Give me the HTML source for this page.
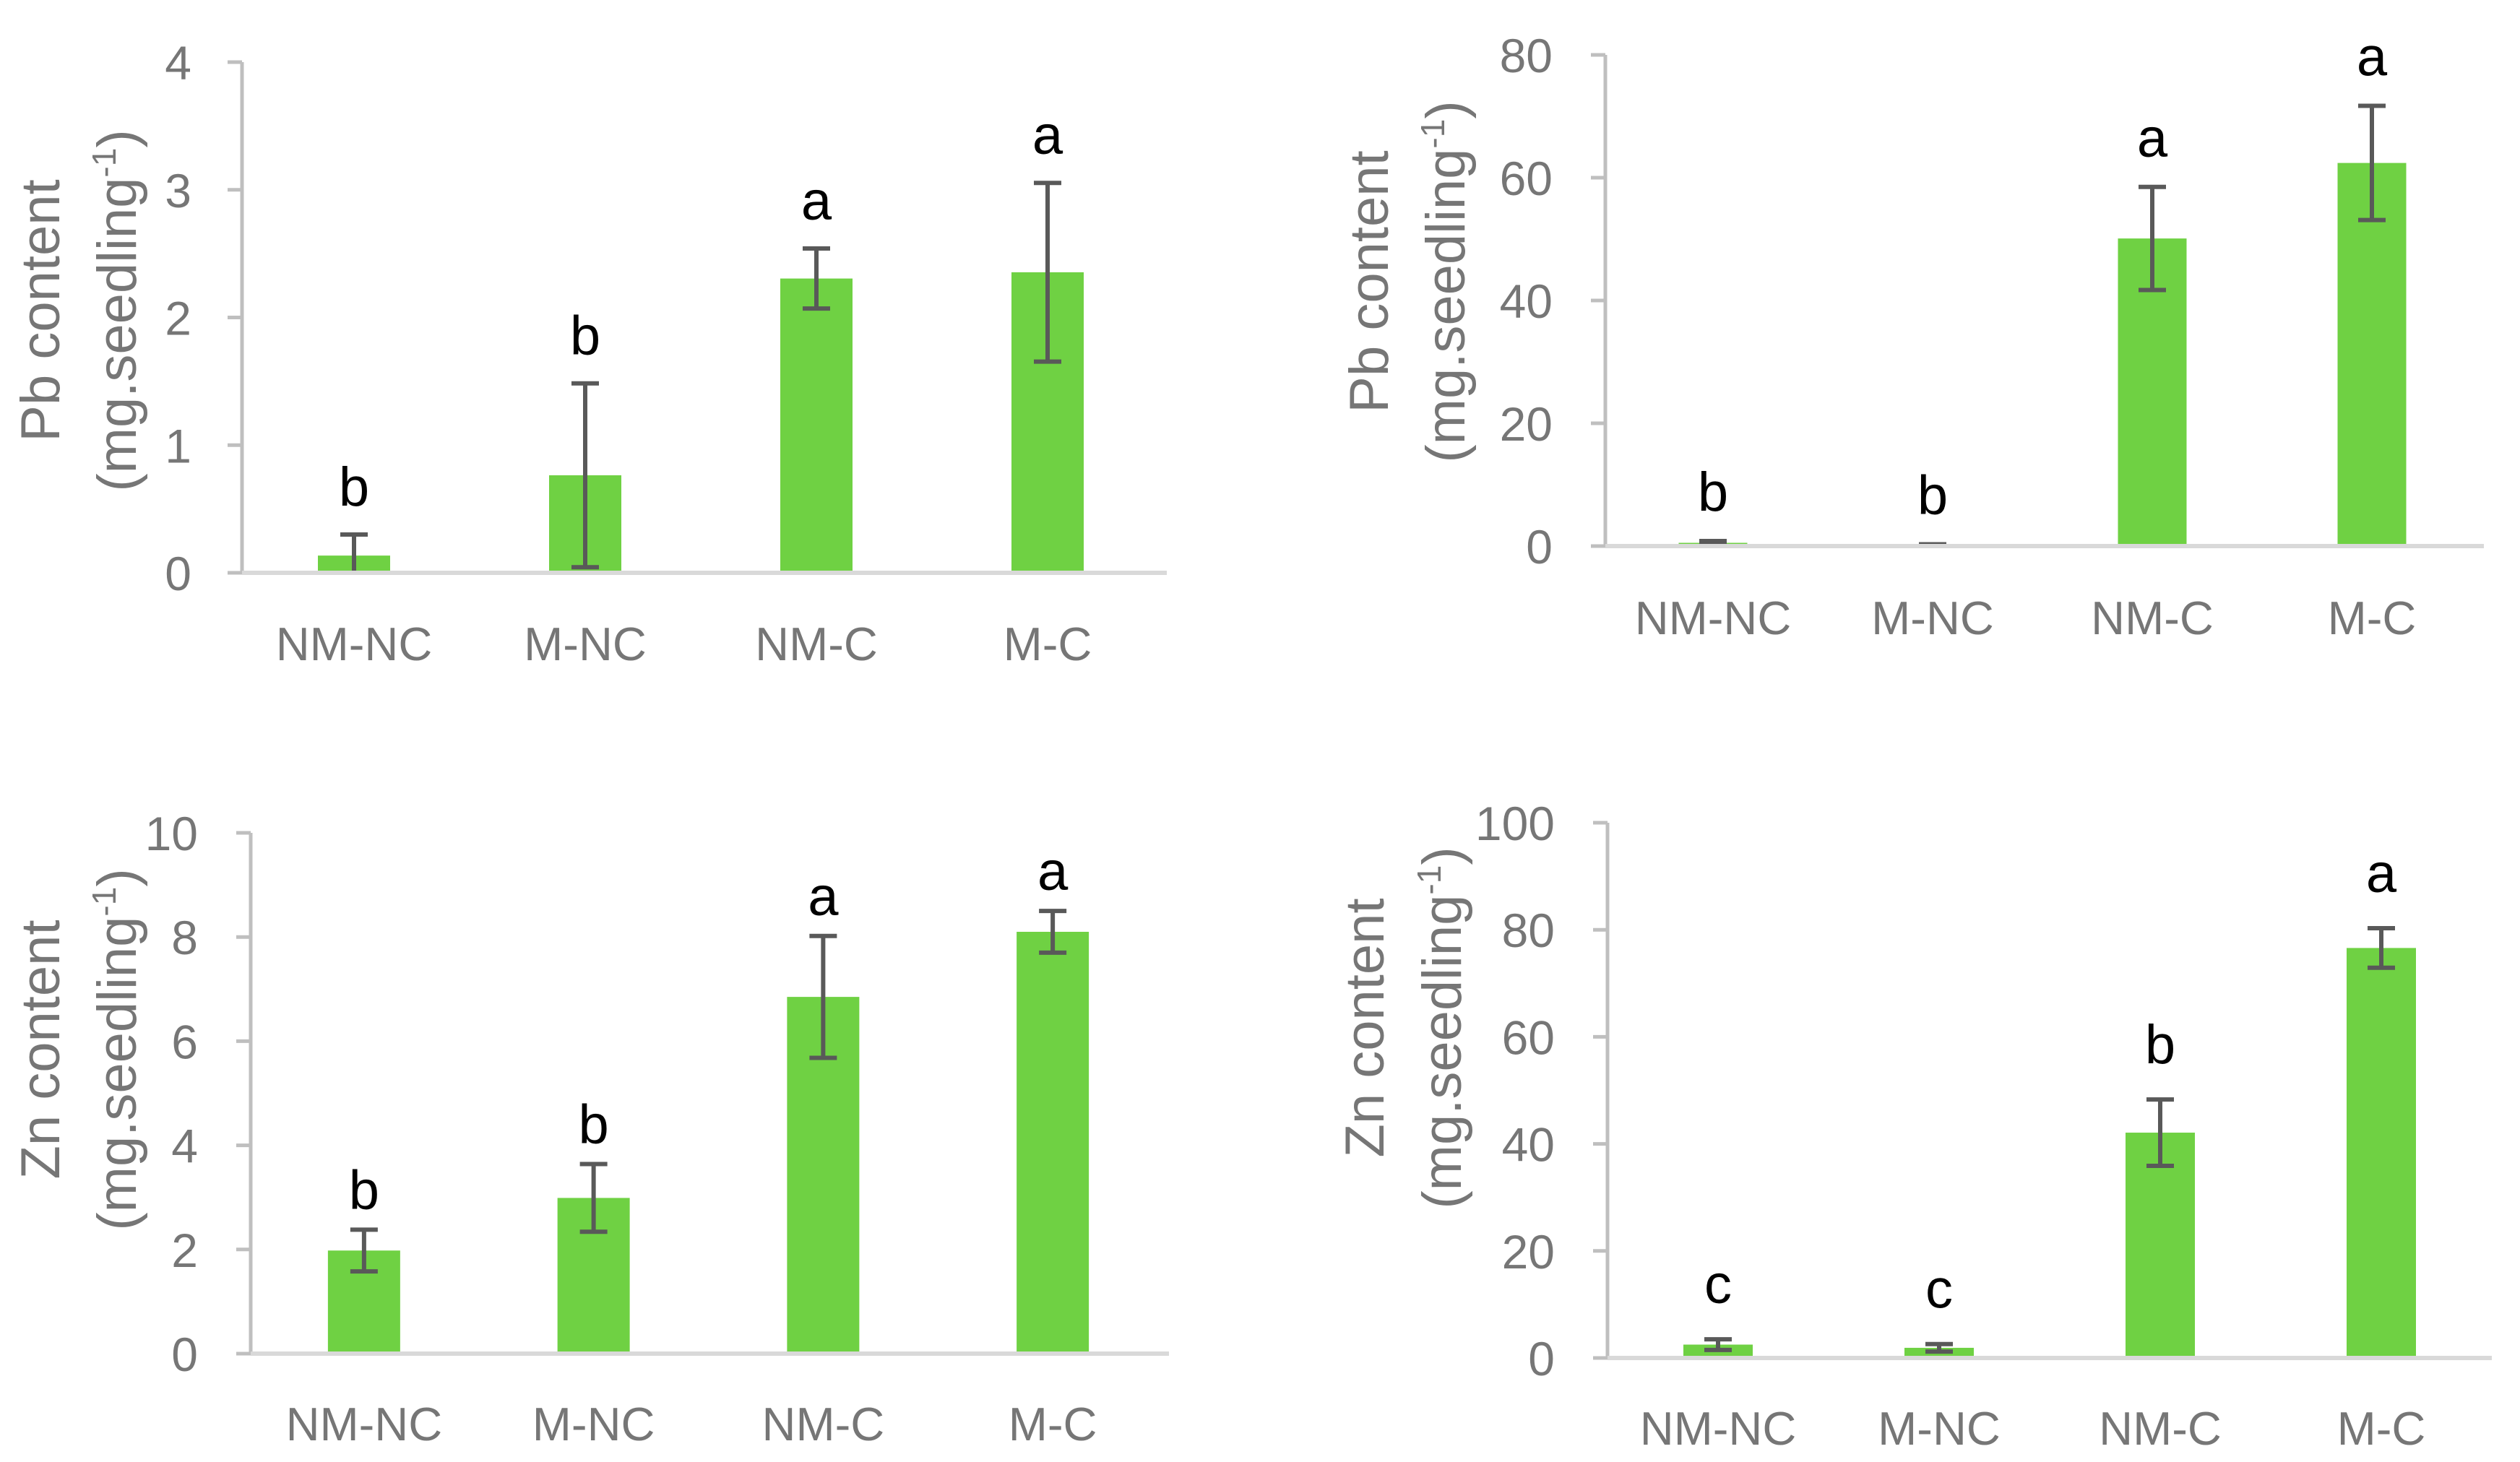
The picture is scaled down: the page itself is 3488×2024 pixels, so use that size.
<!DOCTYPE html>
<html><head><meta charset="utf-8">
<style>
html,body{margin:0;padding:0;background:#fff;}
svg{display:block;}
text{font-family:"Liberation Sans",sans-serif;}
</style></head>
<body>
<svg id="chart" width="3488" height="2024" viewBox="0 0 3488 2024" xmlns="http://www.w3.org/2000/svg"></svg>
<script>
const categories = ["NM-NC","M-NC","NM-C","M-C"];
const pbLeftValues = [0.135, 0.764, 2.305, 2.354];
const pbLeftErrors = [0.165, 0.72, 0.235, 0.70];
const pbLeftLetters = ["b","b","a","a"];
const pbLeftTicks = [0,1,2,3,4];
const pbRightValues = [0.53, 0.2, 50.1, 62.4];
const pbRightErrors = [0.3, 0.1, 8.4, 9.3];
const pbRightLetters = ["b","b","a","a"];
const pbRightTicks = [0,20,40,60,80];
const znLeftValues = [1.98, 2.99, 6.85, 8.10];
const znLeftErrors = [0.40, 0.65, 1.17, 0.40];
const znLeftLetters = ["b","b","a","a"];
const znLeftTicks = [0,2,4,6,8,10];
const znRightValues = [2.5, 1.9, 42.1, 76.6];
const znRightErrors = [1.0, 0.7, 6.2, 3.7];
const znRightLetters = ["c","c","b","a"];
const znRightTicks = [0,20,40,60,80,100];

const NS = "http://www.w3.org/2000/svg";
const svg = document.getElementById("chart");
function mk(tag, attrs, parent){
  const e = document.createElementNS(NS, tag);
  for (const k in attrs) e.setAttribute(k, attrs[k]);
  parent.appendChild(e);
  return e;
}

function panel(p){
  const g = mk("g", {}, svg);
  
  
  const max = p.ticks[p.ticks.length-1];
  const y = v => p.y0 - (v/max)*(p.y0 - p.yTop);
  const bw = (p.right - p.axisX)/categories.length;
  const x = i => p.axisX + bw*(i+0.5) + p.shift;

  const ya = mk("line", {x1:p.axisX, y1:p.yTop, x2:p.axisX, y2:p.y0, stroke:"#bfbfbf", "stroke-width":5}, g);
  
  
  p.ticks.forEach(t => {
    const tm = mk("line", {x1:p.axisX-20, y1:y(t), x2:p.axisX, y2:y(t), stroke:"#bfbfbf", "stroke-width":5}, g);
    
    
    const tl = mk("text", {x:p.tickRight, y:y(t)+24, "text-anchor":"end", "font-size":66, fill:"#767676"}, g);
    tl.textContent = t;
    
    
  });

  categories.forEach((c,i) => {
    const v = p.values[i], e = p.errors[i];
    const bar = mk("rect", {x:x(i)-p.barW/2, y:y(v), width:p.barW, height:p.y0-y(v), fill:"#6fd143"}, g);
    
    
    const top = y(v+e), bot = y(Math.max(0, v-e));
    const eb = mk("g", {stroke:"#595959", "stroke-width":6}, g);
    
    
    mk("line", {x1:x(i), y1:top, x2:x(i), y2:bot}, eb);
    mk("line", {x1:x(i)-19, y1:top, x2:x(i)+19, y2:top}, eb);
    if (v-e > 0) mk("line", {x1:x(i)-19, y1:bot, x2:x(i)+19, y2:bot}, eb);
    const lt = mk("text", {x:x(i), y:top - p.gap, "text-anchor":"middle", "font-size":76, fill:"#000"}, g);
    lt.textContent = p.letters[i];
    
    
    const cl = mk("text", {x:x(i), y:p.catY, "text-anchor":"middle", "font-size":65, fill:"#767676"}, g);
    cl.textContent = c;
    
    
  });

  const xa = mk("line", {x1:p.axisX, y1:p.y0, x2:p.right, y2:p.y0, stroke:"#d9d9d9", "stroke-width":6}, g);
  
  

  const t1 = mk("text", {x:0, y:0, "text-anchor":"middle", "font-size":76, fill:"#767676", transform:`translate(${p.titleX1+26},${p.titleY}) rotate(-90)`}, g);
  t1.textContent = p.title;
  
  
  const t2 = mk("text", {x:0, y:0, "text-anchor":"middle", "font-size":76, fill:"#767676", transform:`translate(${p.titleX2+26},${p.titleY}) rotate(-90)`}, g);
  
  
  t2.appendChild(document.createTextNode("(mg.seedling"));
  const sup = mk("tspan", {"font-size":46, dy:-28}, t2);
  sup.textContent = "-1";
  const cl2 = mk("tspan", {dy:28}, t2);
  cl2.textContent = ")";
}

panel({name:"pb-left-panel", axisX:335, yTop:86, y0:793, right:1615, shift:-5, barW:100, tickRight:265, catY:914,
  titleX1:56, titleX2:162, titleY:430, gap:40, title:"Pb content",
  values:pbLeftValues, errors:pbLeftErrors, letters:pbLeftLetters, ticks:pbLeftTicks});
panel({name:"pb-right-panel", axisX:2222, yTop:76, y0:756, right:3438, shift:-3, barW:95, tickRight:2149, catY:878,
  titleX1:1895, titleX2:2001, titleY:390, gap:42, title:"Pb content",
  values:pbRightValues, errors:pbRightErrors, letters:pbRightLetters, ticks:pbRightTicks});
panel({name:"zn-left-panel", axisX:347, yTop:1153, y0:1874, right:1618, shift:-2, barW:100, tickRight:274, catY:1994,
  titleX1:56, titleX2:162, titleY:1453, gap:29, title:"Zn content",
  values:znLeftValues, errors:znLeftErrors, letters:znLeftLetters, ticks:znLeftTicks});
panel({name:"zn-right-panel", axisX:2225, yTop:1139, y0:1880, right:3449, shift:0, barW:96, tickRight:2152, catY:2000,
  titleX1:1889, titleX2:1996, titleY:1423, gap:50, title:"Zn content",
  values:znRightValues, errors:znRightErrors, letters:znRightLetters, ticks:znRightTicks});
</script>
</body></html>
